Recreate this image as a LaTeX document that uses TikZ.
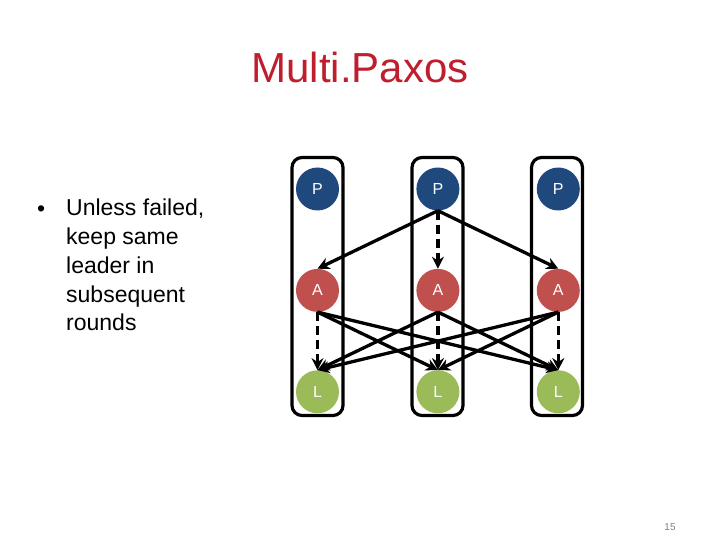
\documentclass[tikz,border=0pt]{standalone}
\usepackage{fontspec}
\setmainfont{Liberation Sans}
\usetikzlibrary{arrows.meta,positioning}
\definecolor{paxred}{HTML}{BE1E2D}
\definecolor{paxblue}{HTML}{1F497D}
\definecolor{paxcoral}{HTML}{C0504D}
\definecolor{paxgreen}{HTML}{9BBB59}
\definecolor{paxgrey}{HTML}{808080}
\tikzset{
  lane/.style={draw=black, line width=3.2pt, rounded corners=10pt,
    minimum width=51pt, minimum height=258pt, inner sep=0pt},
  role/.style={circle, minimum size=43pt, inner sep=0pt, text=white,
    font=\fontsize{16}{19}\selectfont},
  proposer/.style={role, fill=paxblue},
  acceptor/.style={role, fill=paxcoral},
  learner/.style={role, fill=paxgreen},
  msg/.style={-{Stealth[length=12pt, width=12pt]}, line width=3.3pt, draw=black},
  relay/.style={msg, dash pattern=on 9pt off 5pt},
}

\begin{document}
\begin{tikzpicture}[x=1pt, y=-1pt, node distance=58pt and 77pt]
\useasboundingbox (0,0) rectangle (720,540);
\node[font=\fontsize{42}{50}\selectfont, text=paxred] (title) at (360,67) {Multi.Paxos};
\node[anchor=base west, font=\fontsize{23}{28.75}\selectfont, inner sep=0pt] (dot) at (37,216) {\textbullet};
\node[anchor=north west, align=left, inner sep=0pt, font=\fontsize{23}{28.75}\selectfont] (note) at (66,199)
  {Unless failed,\\keep same\\leader in\\subsequent\\rounds};
\node[lane] (lane1) at (317.5,286.5) {};
\node[lane] (lane2) at (437.5,286.5) {};
\node[lane] (lane3) at (557,286.5) {};
\node[proposer] (P1) at (317.5,189) {P};
\node[proposer, right=of P1] (P2) {P};
\node[proposer, right=of P2] (P3) {P};
\node[acceptor, below=of P1] (A1) {A};
\node[acceptor, below=of P2] (A2) {A};
\node[acceptor, below=of P3] (A3) {A};
\node[learner, below=of A1] (L1) {L};
\node[learner, below=of A2] (L2) {L};
\node[learner, below=of A3] (L3) {L};
\draw[msg] (P2.south) -- (A1.north);
\draw[relay] (P2.south) -- (A2.north);
\draw[msg] (P2.south) -- (A3.north);
\draw[relay] (A1.south) -- (L1.north);
\draw[msg] (A1.south) -- (L2.north);
\draw[msg] (A1.south) -- (L3.north);
\draw[msg] (A2.south) -- (L1.north);
\draw[relay] (A2.south) -- (L2.north);
\draw[msg] (A2.south) -- (L3.north);
\draw[msg] (A3.south) -- (L1.north);
\draw[msg] (A3.south) -- (L2.north);
\draw[relay] (A3.south) -- (L3.north);
\node[font=\fontsize{10}{12}\selectfont, text=paxgrey] (pagenum) at (670,527) {15};
\end{tikzpicture}
\end{document}
